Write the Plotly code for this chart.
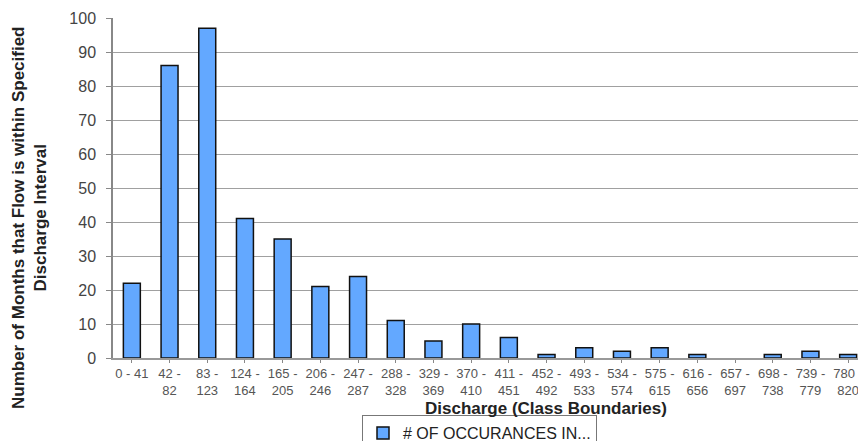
import plotly.graph_objects as go

categories = ["0 - 41", "42 -<br>82", "83 -<br>123", "124 -<br>164", "165 -<br>205",
              "206 -<br>246", "247 -<br>287", "288 -<br>328", "329 -<br>369", "370 -<br>410",
              "411 -<br>451", "452 -<br>492", "493 -<br>533", "534 -<br>574", "575 -<br>615",
              "616 -<br>656", "657 -<br>697", "698 -<br>738", "739 -<br>779", "780 -<br>820"]
occurrences = [22, 86, 97, 41, 35, 21, 24, 11, 5, 10, 6, 1, 3, 2, 3, 1, 0, 1, 2, 1]
series_name = "# OF OCCURANCES IN..."

W, H = 858, 441
L, R, T, B = 113, 0, 18, 83
pw = W - L - R
ph = H - T - B

def px_x(p):
    return (p - L) / pw

def px_y(p):
    return (H - B - p) / ph

fig = go.Figure()
fig.add_trace(go.Bar(
    x=list(range(len(categories))), y=occurrences, name=series_name,
    marker=dict(color="#63a8ff",
                line=dict(color="#111111", width=[1.5 if v > 0 else 0 for v in occurrences])),
    showlegend=True,
))

fig.update_layout(
    width=W, height=H,
    margin=dict(l=L, r=R, t=T, b=B, autoexpand=False),
    paper_bgcolor="white", plot_bgcolor="white",
    font=dict(family="Liberation Sans, Arial, sans-serif", color="#333"),
    bargap=0.55,
    showlegend=True,
    legend=dict(
        orientation="h", xref="container", yref="container",
        x=362 / W, y=1 - 415 / H, xanchor="left", yanchor="top",
        bordercolor="#777", borderwidth=1, bgcolor="white",
        font=dict(size=16, color="#222"),
    ),
    xaxis=dict(
        tickmode="array", tickvals=list(range(len(categories))), ticktext=categories,
        range=[-0.5, -0.5 + pw / 37.7], automargin=False, ticklabeloverflow="allow",
        showgrid=False, showline=True, linecolor="#999", linewidth=1.5,
        ticks="outside", ticklen=3, tickcolor="#888", tickson="boundaries",
        tickfont=dict(size=13, color="#555"), tickangle=0,
    ),
    yaxis=dict(
        range=[0, 100], dtick=10, showgrid=True, gridcolor="#a0a0a0", gridwidth=1,
        showline=True, linecolor="#888", linewidth=1.5, automargin=False,
        ticks="outside", ticklen=5, tickcolor="#888", ticklabelstandoff=7,
        tickfont=dict(size=16, color="#444"), zeroline=False,
    ),
    annotations=[
        dict(text="<b>Number of Months that Flow is within Specified<br>Discharge Interval</b>",
             x=px_x(29), y=px_y(218), xref="paper", yref="paper", showarrow=False,
             textangle=-90, font=dict(size=17, color="#222"), xanchor="center", yanchor="middle"),
        dict(text="<b>Discharge (Class Boundaries)</b>",
             x=px_x(546), y=px_y(409), xref="paper", yref="paper", showarrow=False,
             font=dict(size=17, color="#222"), xanchor="center", yanchor="middle"),
    ],
)

fig.write_html("out.html", config={"displayModeBar": False},
               post_script="document.body.style.margin='0';document.body.style.overflow='hidden';")
